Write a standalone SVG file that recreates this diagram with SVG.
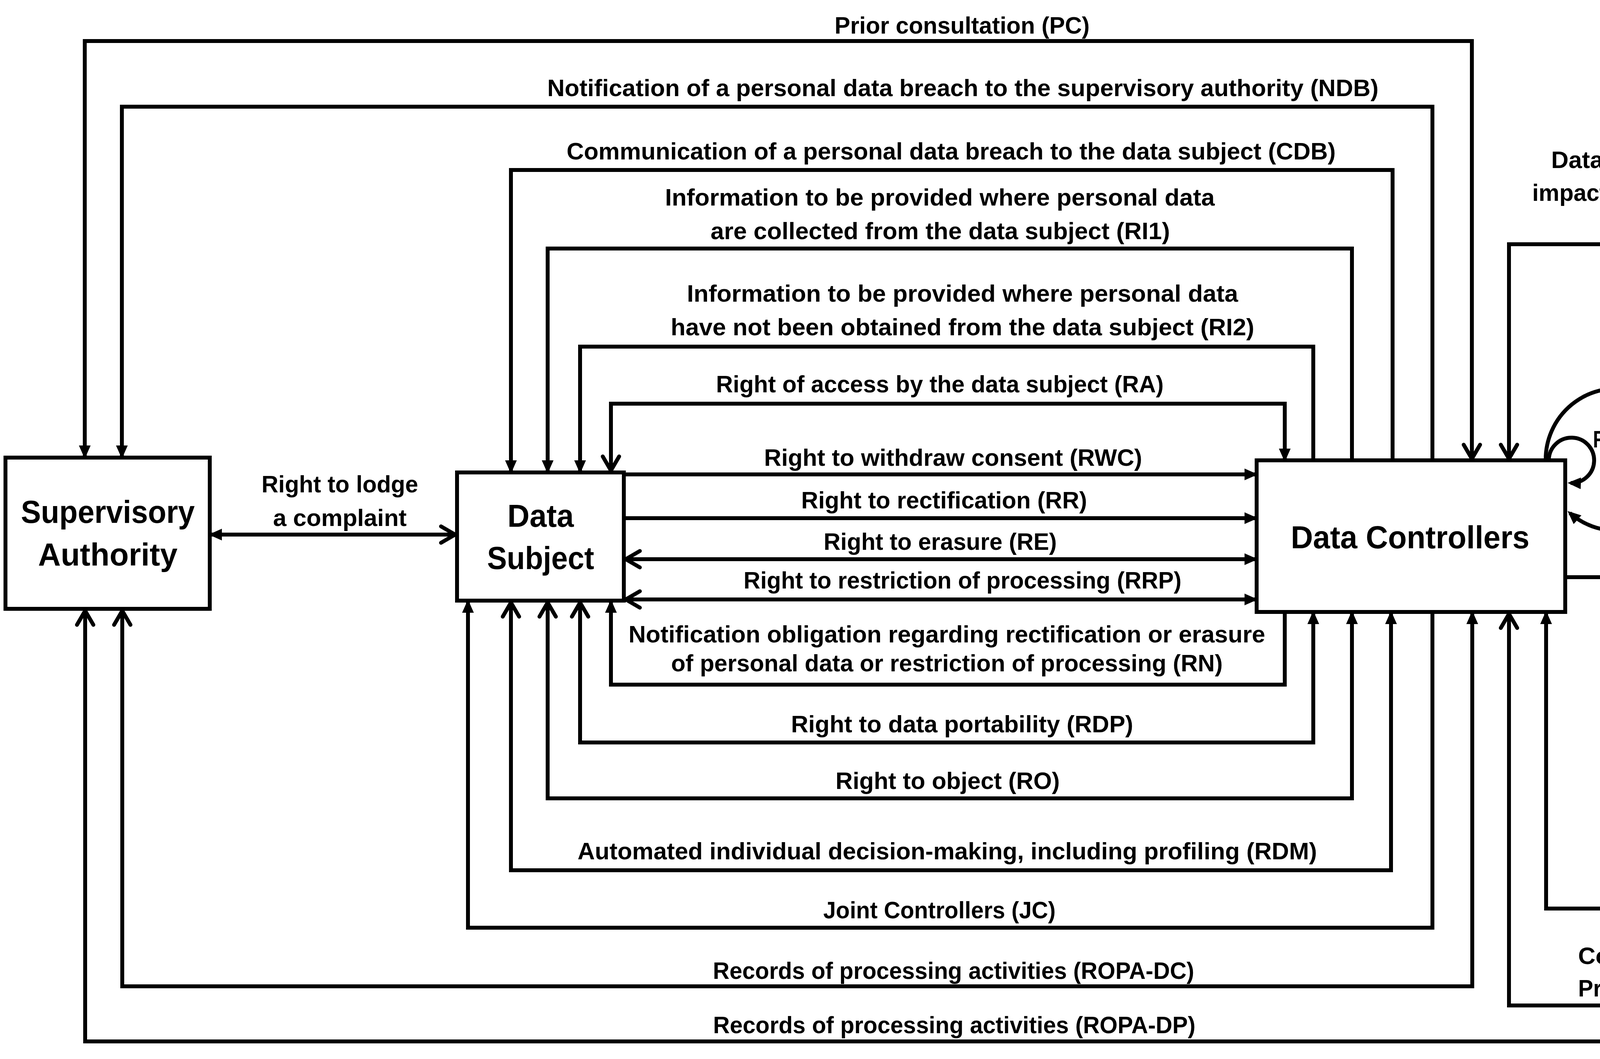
<svg xmlns="http://www.w3.org/2000/svg" width="5053" height="2710" viewBox="0 0 5053 2710">
<style>
.box{fill:#fff;stroke:#000;stroke-width:10}
.c{fill:none;stroke:#000;stroke-width:10;stroke-linejoin:miter;stroke-linecap:square}
.loop{fill:none;stroke:#000;stroke-width:10}
.lbl{font-family:"Liberation Sans",Arial,sans-serif;font-weight:bold;font-size:62px;fill:#000;text-anchor:middle}
.node{font-family:"Liberation Sans",Arial,sans-serif;font-weight:bold;font-size:81px;fill:#000;text-anchor:middle}
.st{text-anchor:start}
</style>
<defs>
<marker id="fa" markerUnits="userSpaceOnUse" viewBox="0 0 34 30" markerWidth="34" markerHeight="30" refX="26" refY="15" orient="auto-start-reverse"><path d="M0,0 L34,15 L0,30 z" fill="#000"/></marker>
<marker id="oa" markerUnits="userSpaceOnUse" viewBox="-6 -6 50 54" markerWidth="50" markerHeight="54" refX="36" refY="21" orient="auto-start-reverse" overflow="visible"><path d="M0,0 L36,21 L0,42" fill="none" stroke="#000" stroke-width="10" stroke-linecap="round" stroke-linejoin="miter"/></marker>
</defs>
<rect width="5053" height="2710" fill="#fff"/>

<g id="connectors">
  <g id="c-pc"><path class="c" d="M217,1166 V105 H3768 V1174" marker-start="url(#fa)" marker-end="url(#oa)"/>
    <text class="lbl" x="2463" y="86" textLength="653" lengthAdjust="spacingAndGlyphs">Prior consultation (PC)</text></g>
  <g id="c-ndb"><path class="c" d="M3667,1174 V273 H312 V1166" marker-end="url(#fa)"/>
    <text class="lbl" x="2465" y="246" textLength="2128" lengthAdjust="spacingAndGlyphs">Notification of a personal data breach to the supervisory authority (NDB)</text></g>
  <g id="c-cdb"><path class="c" d="M3565,1174 V435 H1308 V1204" marker-end="url(#fa)"/>
    <text class="lbl" x="2435" y="408" textLength="1969" lengthAdjust="spacingAndGlyphs">Communication of a personal data breach to the data subject (CDB)</text></g>
  <g id="c-ri1"><path class="c" d="M3461,1174 V636 H1402 V1204" marker-end="url(#fa)"/>
    <text class="lbl" x="2406" y="526" textLength="1407" lengthAdjust="spacingAndGlyphs">Information to be provided where personal data</text>
    <text class="lbl" x="2407" y="612" textLength="1176" lengthAdjust="spacingAndGlyphs">are collected from the data subject (RI1)</text></g>
  <g id="c-ri2"><path class="c" d="M3362,1174 V887 H1485 V1204" marker-end="url(#fa)"/>
    <text class="lbl" x="2464" y="772" textLength="1411" lengthAdjust="spacingAndGlyphs">Information to be provided where personal data</text>
    <text class="lbl" x="2464" y="858" textLength="1494" lengthAdjust="spacingAndGlyphs">have not been obtained from the data subject (RI2)</text></g>
  <g id="c-ra"><path class="c" d="M1564,1204 V1033 H3289 V1174" marker-start="url(#oa)" marker-end="url(#fa)"/>
    <text class="lbl" x="2406" y="1004" textLength="1146" lengthAdjust="spacingAndGlyphs">Right of access by the data subject (RA)</text></g>
  <g id="c-rwc"><path class="c" d="M1602,1214 H3212" marker-end="url(#fa)"/>
    <text class="lbl" x="2440" y="1192" textLength="968" lengthAdjust="spacingAndGlyphs">Right to withdraw consent (RWC)</text></g>
  <g id="c-rr"><path class="c" d="M1602,1326 H3212" marker-end="url(#fa)"/>
    <text class="lbl" x="2417" y="1301" textLength="732" lengthAdjust="spacingAndGlyphs">Right to rectification (RR)</text></g>
  <g id="c-re"><path class="c" d="M1602,1431 H3212" marker-start="url(#oa)" marker-end="url(#fa)"/>
    <text class="lbl" x="2407" y="1407" textLength="597" lengthAdjust="spacingAndGlyphs">Right to erasure (RE)</text></g>
  <g id="c-rrp"><path class="c" d="M1602,1534 H3212" marker-start="url(#oa)" marker-end="url(#fa)"/>
    <text class="lbl" x="2464" y="1506" textLength="1121" lengthAdjust="spacingAndGlyphs">Right to restriction of processing (RRP)</text></g>
  <g id="c-lodge"><path class="c" d="M542,1368 H1165" marker-start="url(#fa)" marker-end="url(#oa)"/>
    <text class="lbl" x="870" y="1260" textLength="401" lengthAdjust="spacingAndGlyphs">Right to lodge</text>
    <text class="lbl" x="870" y="1346" textLength="342" lengthAdjust="spacingAndGlyphs">a complaint</text></g>
  <g id="c-rn"><path class="c" d="M3289,1571 V1752 H1564 V1542" marker-end="url(#fa)"/>
    <text class="lbl" x="2424" y="1644" textLength="1630" lengthAdjust="spacingAndGlyphs">Notification obligation regarding rectification or erasure</text>
    <text class="lbl" x="2424" y="1718" textLength="1412" lengthAdjust="spacingAndGlyphs">of personal data or restriction of processing (RN)</text></g>
  <g id="c-rdp"><path class="c" d="M3362,1571 V1900 H1485 V1542" marker-start="url(#fa)" marker-end="url(#oa)"/>
    <text class="lbl" x="2463" y="1874" textLength="876" lengthAdjust="spacingAndGlyphs">Right to data portability (RDP)</text></g>
  <g id="c-ro"><path class="c" d="M3461,1571 V2043 H1402 V1542" marker-start="url(#fa)" marker-end="url(#oa)"/>
    <text class="lbl" x="2426" y="2019" textLength="574" lengthAdjust="spacingAndGlyphs">Right to object (RO)</text></g>
  <g id="c-rdm"><path class="c" d="M3561,1571 V2227 H1308 V1542" marker-start="url(#fa)" marker-end="url(#oa)"/>
    <text class="lbl" x="2425" y="2199" textLength="1893" lengthAdjust="spacingAndGlyphs">Automated individual decision-making, including profiling (RDM)</text></g>
  <g id="c-jc"><path class="c" d="M3667,1571 V2374 H1198 V1542" marker-end="url(#fa)"/>
    <text class="lbl" x="2405" y="2350" textLength="595" lengthAdjust="spacingAndGlyphs">Joint Controllers (JC)</text></g>
  <g id="c-ropa-dc"><path class="c" d="M3769,1571 V2524 H313 V1563" marker-start="url(#fa)" marker-end="url(#oa)"/>
    <text class="lbl" x="2441" y="2505" textLength="1232" lengthAdjust="spacingAndGlyphs">Records of processing activities (ROPA-DC)</text></g>
  <g id="c-ropa-dp"><path class="c" d="M218,1563 V2665 H4545" marker-start="url(#oa)" marker-end="url(#fa)"/>
    <text class="lbl" x="2443" y="2644" textLength="1235" lengthAdjust="spacingAndGlyphs">Records of processing activities (ROPA-DP)</text></g>
  <g id="c-cpr"><path class="c" d="M3863,1571 V2573 H4545" marker-start="url(#oa)" marker-end="url(#fa)"/>
    <text class="lbl st" x="4040" y="2467" textLength="393" lengthAdjust="spacingAndGlyphs">Contract with</text>
    <text class="lbl st" x="4040" y="2550" textLength="440" lengthAdjust="spacingAndGlyphs">Processor (CPr)</text></g>
  <g id="c-ndb-dp"><path class="c" d="M4545,2325 H3958 V1571" marker-end="url(#fa)"/>
    <text class="lbl" x="4291" y="2299" textLength="126" lengthAdjust="spacingAndGlyphs">NDB</text></g>
  <g id="c-dpia"><path class="c" d="M3863,1174 V625 H4547" marker-start="url(#oa)" marker-end="url(#fa)"/>
    <text class="lbl" x="4197" y="430" textLength="452" lengthAdjust="spacingAndGlyphs">Data protection</text>
    <text class="lbl" x="4197" y="514" textLength="549" lengthAdjust="spacingAndGlyphs">impact assessment</text>
    <text class="lbl" x="4198" y="600" textLength="185" lengthAdjust="spacingAndGlyphs">(DPIA)</text></g>
  <g id="c-rn-rec"><path class="c" d="M4010,1477 H4551" marker-end="url(#fa)"/>
    <text class="lbl" x="4267" y="1455" textLength="81" lengthAdjust="spacingAndGlyphs">RN</text></g>
  <g id="c-loop-rdp"><path class="loop" d="M3957,1180 A182,182 0 1,1 4019,1313" marker-end="url(#fa)"/>
    <text class="lbl st" x="4277" y="1038" textLength="114" lengthAdjust="spacingAndGlyphs">RDP</text></g>
  <g id="c-loop-re"><path class="loop" d="M3965,1176 A58,58 0 1,1 4021,1236" marker-end="url(#fa)"/>
    <text class="lbl st" x="4078" y="1145" textLength="67" lengthAdjust="spacingAndGlyphs">RE</text></g>
</g>

<g id="supervisory-authority">
  <rect class="box" x="14" y="1171" width="523" height="387"/>
  <text class="node" x="276" y="1338" textLength="445" lengthAdjust="spacingAndGlyphs">Supervisory</text>
  <text class="node" x="276" y="1447" textLength="357" lengthAdjust="spacingAndGlyphs">Authority</text>
</g>
<g id="data-subject">
  <rect class="box" x="1170" y="1209" width="427" height="328"/>
  <text class="node" x="1384" y="1348" textLength="170" lengthAdjust="spacingAndGlyphs">Data</text>
  <text class="node" x="1384" y="1456" textLength="274" lengthAdjust="spacingAndGlyphs">Subject</text>
</g>
<g id="data-controllers">
  <rect class="box" x="3217" y="1178" width="790" height="388"/>
  <text class="node" x="3610" y="1403" textLength="611" lengthAdjust="spacingAndGlyphs">Data Controllers</text>
</g>
<g id="data-protection-officer">
  <rect class="box" x="4552" y="329" width="489" height="386"/>
  <text class="node" x="4795" y="443" textLength="167" lengthAdjust="spacingAndGlyphs">Data</text>
  <text class="node" x="4796" y="551" textLength="384" lengthAdjust="spacingAndGlyphs">Protection</text>
  <text class="node" x="4797" y="661" textLength="249" lengthAdjust="spacingAndGlyphs">Officer</text>
</g>
<g id="recipients">
  <rect class="box" x="4556" y="1179" width="485" height="388"/>
  <text class="node" x="4799" y="1403" textLength="384" lengthAdjust="spacingAndGlyphs">Recipients</text>
</g>
<g id="data-processors">
  <rect class="box" x="4550" y="2306" width="488" height="384"/>
  <text class="node" x="4793" y="2473" textLength="167" lengthAdjust="spacingAndGlyphs">Data</text>
  <text class="node" x="4794" y="2581" textLength="394" lengthAdjust="spacingAndGlyphs">Processors</text>
</g>
</svg>
